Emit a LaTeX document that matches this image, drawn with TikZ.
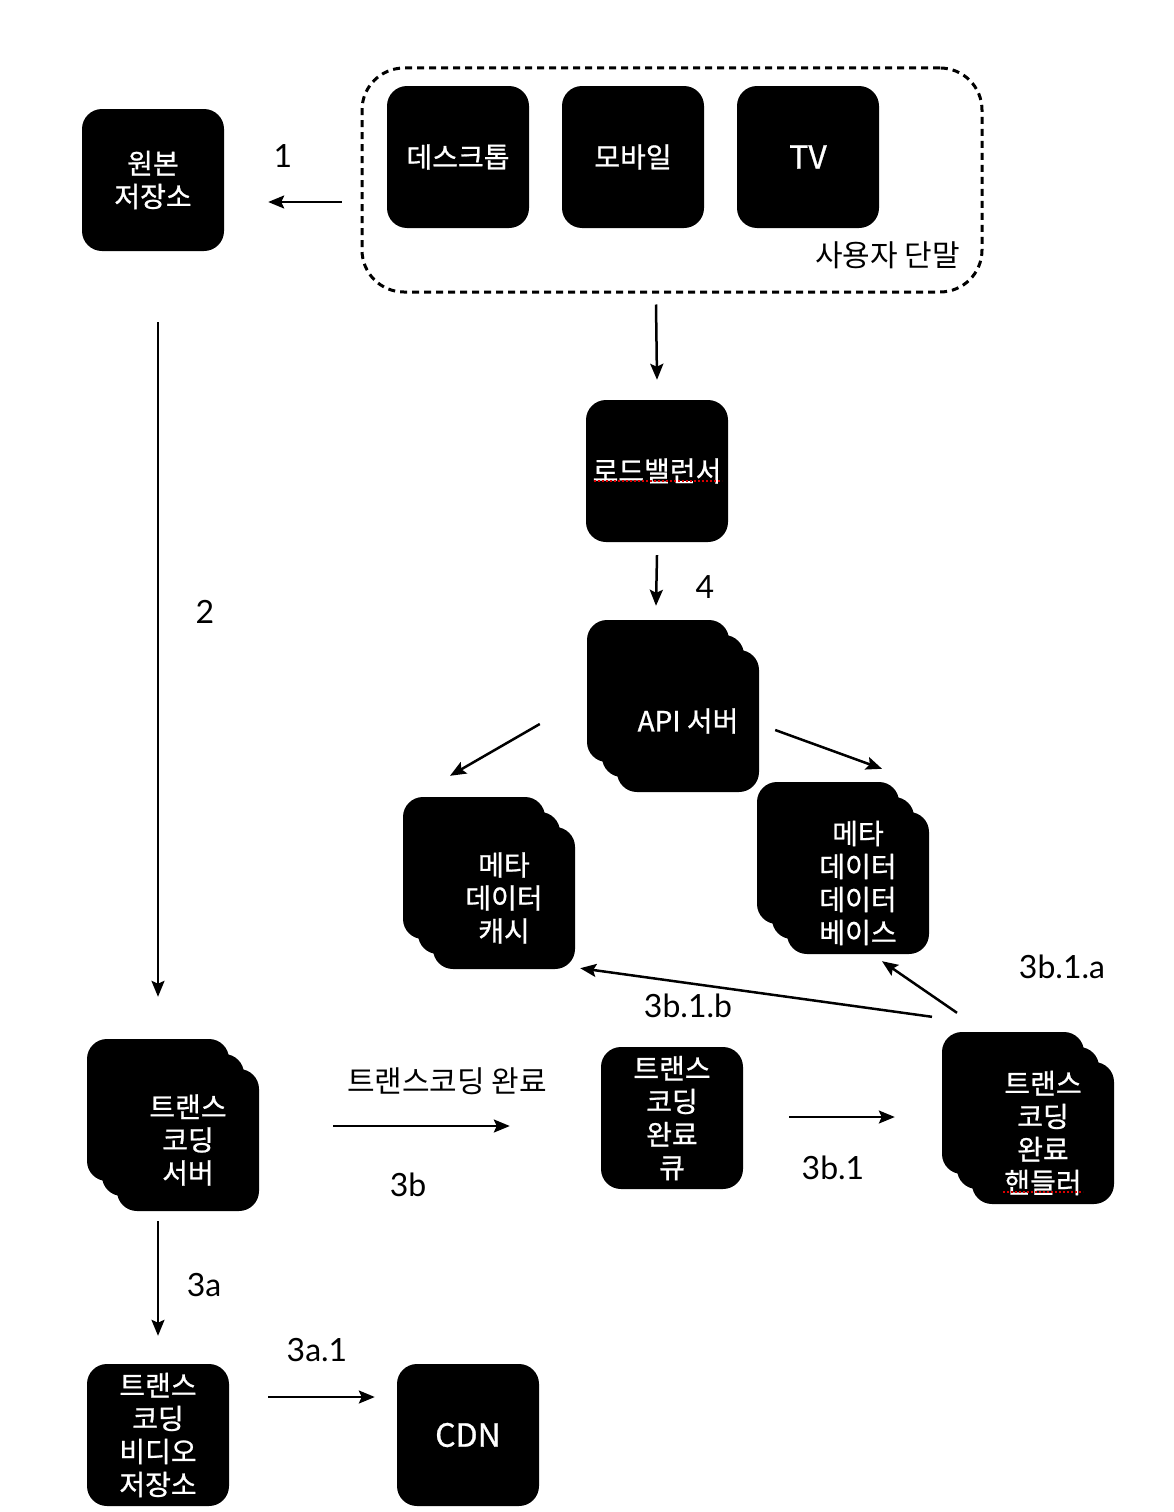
\documentclass[tikz,border=0pt]{standalone}
\usepackage{fontspec}
\usepackage{tikz}
\usetikzlibrary{positioning,shadows,arrows.meta}
\newfontfamily\krfont{Noto Sans CJK KR}
\newfontfamily\krboxfont[FakeBold=0.8]{Noto Sans CJK KR}
\newfontfamily\numfont{Lato}
\tikzset{
  % --- service boxes ---------------------------------------------------------
  box/.style={rectangle,fill=black,rounded corners=20pt,minimum size=142pt,
              inner sep=0pt,text=white,align=center,
              font=\krboxfont\fontsize{28}{33}\selectfont},
  stack/.style={box,   % three copies, the named one is the rear box
    copy shadow={shadow xshift=-30pt,shadow yshift=30pt,fill=black,draw=none},
    copy shadow={shadow xshift=-15pt,shadow yshift=15pt,fill=black,draw=none}},
  latin/.style={font=\krboxfont\fontsize{32}{36}\selectfont},
  group/.style={rectangle,draw,line width=3pt,dash pattern=on 7pt off 5pt,
                rounded corners=42pt,minimum width=620pt,minimum height=224pt},
  % --- connectors ------------------------------------------------------------
  arr/.style={-{Stealth[length=16pt,width=13pt,inset=3pt]},line width=2.5pt},
  lab/.style={font=\numfont\fontsize{32}{36}\selectfont,inner sep=0pt},
  klab/.style={font=\krfont\fontsize{30}{34}\selectfont,inner sep=0pt},
  spell/.style={red!85!black,line width=2pt,dash pattern=on 2pt off 2pt},
}
\begin{document}
\begin{tikzpicture}[x=1pt, y=-1pt]
  \useasboundingbox (0,0) rectangle (1174,1512);

  % user devices
  \node[group] (users) at (672,180) {};
  \node[box] (desk)   at (458,157) {데스크톱};
  \node[box] (mobile) at (633,157) {모바일};
  \node[box,latin] (tv) at (808,157) {TV};
  \node[klab,anchor=east] (usersl) at (960,255) {사용자 단말};

  \node[box] (src) at (153,180) {원본\\저장소};
  \node[box] (lb)  at (657,471) {로드밸런서};
  \node[stack] (api)   at (688,721) {API 서버};
  \node[stack] (cache) at (504,898) {메타\\데이터\\캐시};
  \node[stack] (db)    at (858,883) {메타\\데이터\\데이터\\베이스};
  \node[stack] (tcs)   at (188,1140) {트랜스\\코딩\\서버};
  \node[box]   (queue) at (672,1118) {트랜스\\코딩\\완료\\큐};
  \node[stack] (hdl)   at (1043,1133) {트랜스\\코딩\\완료\\핸들러};
  \node[box]   (tvs)   at (158,1435) {트랜스\\코딩\\비디오\\저장소};
  \node[box,latin] (cdn) at (468,1435) {CDN};

  % editor marks under two labels
  \draw[spell] ([shift={(-63,10)}]lb.center) -- ([shift={(65,10)}]lb.center);
  \draw[spell] ([shift={(-40,59)}]hdl.center) -- ([shift={(40,59)}]hdl.center);

  \draw[arr] ([shift={(-19,22)}]users.west) -- ([shift={(44,22)}]src.east);
  \draw[arr] ([shift={(-16,11)}]users.south) -- ([yshift=20pt]lb.north);
  \draw[arr] ([yshift=-13pt]lb.south) -- ([shift={(-32,-44)}]api.north);
  \draw[arr] ([shift={(-77,3)}]api.west) -- ([shift={(-54,-51)}]cache.north);
  \draw[arr] ([shift={(16,9)}]api.east) -- ([shift={(24,-43)}]db.north);
  \draw[arr] ([shift={(5,71)}]src.south) -- ([shift={(-30,-72)}]tcs.north);
  \draw[arr] ([shift={(74,-14)}]tcs.east) -- ([shift={(-91,8)}]queue.west);
  \draw[arr] ([shift={(46,-1)}]queue.east) -- ([shift={(-77,-16)}]hdl.west);
  \draw[arr] ([shift={(-86,-49)}]hdl.north) -- ([shift={(24,7)}]db.south);
  \draw[arr] ([shift={(-111,-45)}]hdl.north) -- ([shift={(5,-1)}]cache.south east);
  \draw[arr] ([shift={(-30,10)}]tcs.south) -- ([yshift=28pt]tvs.north);
  \draw[arr] ([shift={(39,-38)}]tvs.east) -- ([shift={(-22,-38)}]cdn.west);

  % step numbers
  \node[lab]  (l1)   at (283,156)  {1};
  \node[lab]  (l2)   at (205,612)  {2};
  \node[lab]  (l4)   at (705,587)  {4};
  \node[klab] (ldone) at (447,1081) {트랜스코딩 완료};
  \node[lab]  (l3b)  at (408,1185) {3b};
  \node[lab]  (l3b1) at (833,1168) {3b.1};
  \node[lab]  (l3b1a) at (1062,967) {3b.1.a};
  \node[lab]  (l3b1b) at (688,1006) {3b.1.b};
  \node[lab]  (l3a)  at (204,1285) {3a};
  \node[lab]  (l3a1) at (317,1350) {3a.1};
\end{tikzpicture}
\end{document}
